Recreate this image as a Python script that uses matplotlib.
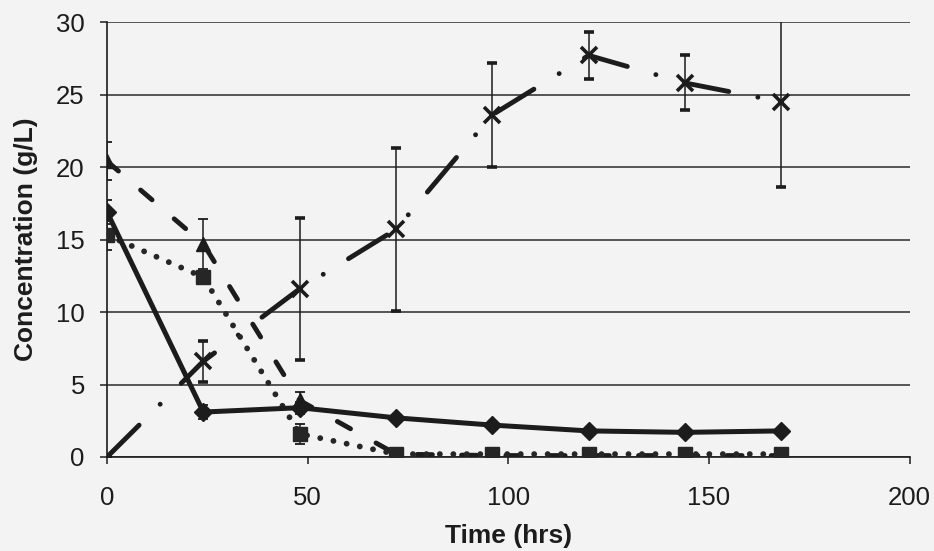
import numpy as np
import matplotlib.pyplot as plt

# data
time_hrs = [0, 24, 48, 72, 96, 120, 144, 168]

diamond_vals = [16.9, 3.1, 3.4, 2.7, 2.2, 1.8, 1.7, 1.8]
diamond_err = [0.8, 0.5, 0.4, 0.2, 0.2, 0.1, 0.1, 0.1]

square_vals = [15.3, 12.4, 1.6, 0.2, 0.2, 0.2, 0.2, 0.2]
square_err = [1.0, 0.4, 0.7, 0.1, 0.1, 0.1, 0.1, 0.1]

triangle_vals = [20.4, 14.7, 3.9, 0.2, 0.1, 0.1, 0.1, 0.1]
triangle_err = [1.3, 1.7, 0.6, 0.1, 0.1, 0.1, 0.1, 0.1]

cross_vals = [0.0, 6.6, 11.6, 15.7, 23.6, 27.7, 25.8, 24.5]
cross_err = [0.1, 1.4, 4.9, 5.6, 3.6, 1.6, 1.9, 5.9]

x_ticks = [0, 50, 100, 150, 200]
y_ticks = [0, 5, 10, 15, 20, 25, 30]

plt.rcParams['font.family'] = ['Liberation Sans', 'DejaVu Sans']

fig = plt.figure(figsize=(9.34, 5.51), dpi=100, facecolor='#f3f3f3')
ax = fig.add_axes([0.1146, 0.1706, 0.8594, 0.7894])
ax.set_facecolor('#f3f3f3')

ink = '#1c1c1c'
eb = dict(ecolor=ink, elinewidth=1.1, capsize=3.5, capthick=1.3)

ax.errorbar(time_hrs, cross_vals, yerr=cross_err, color=ink, lw=3.5,
            dashes=(9.3, 6.1, 0.01, 6.1), dash_capstyle='round',
            marker='x', ms=12, mew=2.6, zorder=3, **eb)
ax.errorbar(time_hrs, triangle_vals, yerr=triangle_err, color=ink, lw=3.5,
            dashes=(3.1, 6.0), dash_capstyle='round',
            marker='^', ms=10, zorder=3, **eb)
ax.errorbar(time_hrs, square_vals, yerr=square_err, color='#262626', lw=4.2,
            dashes=(0.01, 2.3), dash_capstyle='round',
            marker='s', ms=9.5, zorder=4, **eb)
ax.errorbar(time_hrs, diamond_vals, yerr=diamond_err, color=ink, lw=3.6,
            marker='D', ms=9, zorder=5, **eb)

ax.set_xlim(0, 200)
ax.set_ylim(0, 30)
ax.set_xticks(x_ticks)
ax.set_yticks(y_ticks)
ax.yaxis.grid(True, color='#2a2a2a', lw=1.1)
ax.set_axisbelow(True)

for s in ['top', 'right']:
    ax.spines[s].set_visible(False)
for s in ['left', 'bottom']:
    ax.spines[s].set_color(ink)
    ax.spines[s].set_linewidth(1.2)

ax.tick_params(axis='both', labelsize=18.5, colors=ink, length=5, width=1.1,
               direction='out')
ax.tick_params(axis='x', pad=16)
ax.tick_params(axis='y', pad=11)

ax.set_xlabel('Time (hrs)', fontsize=19, fontweight='bold', color=ink, labelpad=10)
ax.set_ylabel('Concentration (g/L)', fontsize=19, fontweight='bold', color=ink,
              labelpad=13)

plt.savefig('out.png', dpi=100, facecolor=fig.get_facecolor())
